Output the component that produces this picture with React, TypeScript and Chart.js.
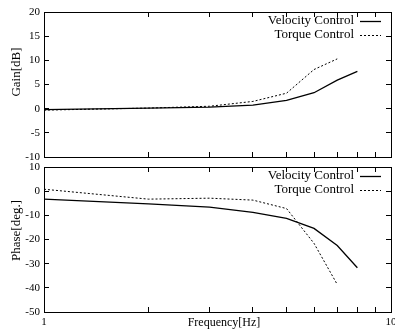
import React, { useEffect, useRef } from 'react';
import { Chart, registerables } from 'chart.js';

Chart.register(...registerables);

const FONT = "'Liberation Serif', 'Times New Roman', serif";

const seriesLabels = ['Velocity Control', 'Torque Control'];
const velocityFreq = [1, 2, 3, 4, 5, 6, 7, 8];
const torqueFreq = [1, 2, 3, 4, 5, 6, 7];
const velocityGain = [-0.2, 0.1, 0.33, 0.75, 1.7, 3.3, 5.9, 7.7];
const torqueGain = [-0.3, 0.12, 0.5, 1.5, 3.2, 8.1, 10.3];
const velocityPhase = [-3.3, -5.3, -6.6, -8.8, -11.3, -15.4, -22.5, -31.7];
const torquePhase = [0.8, -3.3, -2.9, -3.7, -7.2, -21.6, -38.6];
const xTicks = [1, 2, 3, 4, 5, 6, 7, 8, 9, 10];
const xTickLabels = [1, 10];
const gainAxis = { min: -10, max: 20, step: 5, title: 'Gain[dB]' };
const phaseAxis = { min: -50, max: 10, step: 10, title: 'Phase[deg.]' };
const xTitle = 'Frequency[Hz]';

const toPoints = (xs: number[], ys: number[]) => ys.map((y, i) => ({ x: xs[i], y }));

const legendPlugin = {
  id: 'gnuLegend',
  afterDatasetsDraw(chart: any) {
    const { ctx, chartArea } = chart;
    ctx.save();
    ctx.font = `13px ${FONT}`;
    ctx.fillStyle = '#000';
    ctx.textAlign = 'right';
    ctx.textBaseline = 'middle';
    chart.data.datasets.forEach((ds: any, i: number) => {
      const y = chartArea.top + 9 + i * 14;
      ctx.fillText(ds.label, chartArea.right - 37, y);
      ctx.beginPath();
      ctx.strokeStyle = ds.borderColor;
      ctx.lineWidth = ds.borderWidth;
      ctx.setLineDash(ds.borderDash || []);
      ctx.moveTo(chartArea.right - 31, Math.round(y) + 0.5);
      ctx.lineTo(chartArea.right - 10, Math.round(y) + 0.5);
      ctx.stroke();
    });
    ctx.restore();
  },
};

const titlePlugin = {
  id: 'gnuTitles',
  afterDraw(chart: any, _args: any, opts: any) {
    const { ctx, chartArea } = chart;
    ctx.save();
    ctx.fillStyle = '#000';
    ctx.textAlign = 'center';
    ctx.textBaseline = 'middle';
    if (opts.yTitle) {
      ctx.save();
      ctx.font = `13px ${FONT}`;
      ctx.translate(opts.yTitleX, (chartArea.top + chartArea.bottom) / 2 + opts.yTitleShift);
      ctx.rotate(-Math.PI / 2);
      ctx.fillText(opts.yTitle, 0, 0);
      ctx.restore();
    }
    if (opts.xTitle) {
      ctx.font = `12px ${FONT}`;
      ctx.fillText(opts.xTitle, (chartArea.left + chartArea.right) / 2 + opts.xTitleShift, opts.xTitleY);
    }
    ctx.restore();
  },
};

const fixedLogTicks = (s: any) => {
  s.ticks = xTicks.map((v) => ({ value: v, major: v === 1 || v === 10 }));
};

function buildConfig(
  vel: number[],
  tor: number[],
  axis: { min: number; max: number; step: number; title: string },
  showX: boolean,
  xAxisHeight: number,
  padding: any,
  titles: any
): any {
  const tickFont = { family: FONT, size: 11 };
  const grid = { drawOnChartArea: false, drawTicks: true, tickLength: -5, color: '#000', lineWidth: 1 };
  const border = { color: '#000', width: 1 };
  return {
    type: 'line',
    data: {
      datasets: [
        {
          label: seriesLabels[0],
          data: toPoints(velocityFreq, vel),
          borderColor: '#000',
          borderWidth: 1.3,
          pointRadius: 0,
          fill: false,
          tension: 0,
        },
        {
          label: seriesLabels[1],
          data: toPoints(torqueFreq, tor),
          borderColor: '#000',
          borderWidth: 1,
          borderDash: [2, 2],
          pointRadius: 0,
          fill: false,
          tension: 0,
        },
      ],
    },
    options: {
      responsive: false,
      animation: false,
      layout: { padding },
      plugins: {
        legend: { display: false },
        tooltip: { enabled: false },
        gnuTitles: titles,
      },
      scales: {
        x: {
          type: 'logarithmic',
          position: 'bottom',
          min: 1,
          max: 10,
          grid,
          border,
          afterBuildTicks: fixedLogTicks,
          ticks: {
            display: showX,
            autoSkip: false,
            maxRotation: 0,
            padding: 9,
            color: '#000',
            font: tickFont,
            callback: (v: number) => (xTickLabels.includes(v) ? String(v) : ''),
          },
          afterFit: (s: any) => {
            s.height = xAxisHeight;
            s.paddingLeft = 0;
            s.paddingRight = 0;
          },
        },
        x2: {
          type: 'logarithmic',
          position: 'top',
          min: 1,
          max: 10,
          grid,
          border,
          afterBuildTicks: fixedLogTicks,
          ticks: { display: false, autoSkip: false },
          afterFit: (s: any) => {
            s.height = 0;
            s.paddingLeft = 0;
            s.paddingRight = 0;
          },
        },
        y: {
          type: 'linear',
          position: 'left',
          min: axis.min,
          max: axis.max,
          grid,
          border,
          ticks: { stepSize: axis.step, padding: 9, color: '#000', font: tickFont },
          afterFit: (s: any) => {
            s.width = 44;
            s.paddingTop = 0;
            s.paddingBottom = 0;
          },
        },
        y2: {
          type: 'linear',
          position: 'right',
          min: axis.min,
          max: axis.max,
          grid,
          border,
          ticks: { display: false, stepSize: axis.step },
          afterFit: (s: any) => {
            s.width = 0;
            s.paddingTop = 0;
            s.paddingBottom = 0;
          },
        },
      },
    },
    plugins: [legendPlugin, titlePlugin],
  };
}

export default function App() {
  const topRef = useRef<HTMLCanvasElement | null>(null);
  const bottomRef = useRef<HTMLCanvasElement | null>(null);

  useEffect(() => {
    const top = new Chart(
      topRef.current as HTMLCanvasElement,
      buildConfig(
        velocityGain,
        torqueGain,
        gainAxis,
        false,
        0,
        { top: 12, left: 0, right: 4, bottom: 5 },
        { yTitle: gainAxis.title, yTitleX: 16.5, yTitleShift: -12.5 }
      )
    );
    const bottom = new Chart(
      bottomRef.current as HTMLCanvasElement,
      buildConfig(
        velocityPhase,
        torquePhase,
        phaseAxis,
        true,
        18,
        { top: 5, left: 0, right: 4, bottom: 5 },
        { yTitle: phaseAxis.title, yTitleX: 16.5, yTitleShift: -9, xTitle, xTitleShift: 6.5, xTitleY: 160.5 }
      )
    );
    return () => {
      top.destroy();
      bottom.destroy();
    };
  }, []);

  return (
    <div style={{ position: 'absolute', left: 0, top: 0, width: 395, height: 335, background: '#fff' }}>
      <canvas ref={topRef} width={395} height={162} style={{ position: 'absolute', left: 0, top: 0 }} />
      <canvas ref={bottomRef} width={395} height={173} style={{ position: 'absolute', left: 0, top: 162 }} />
    </div>
  );
}
